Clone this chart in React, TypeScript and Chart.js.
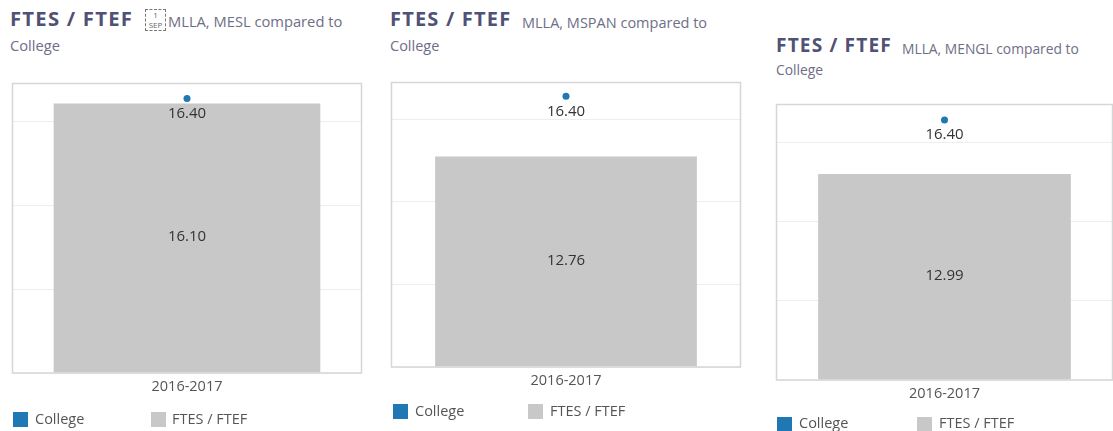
import React, { useEffect, useRef } from "react";
import { Chart, registerables } from "chart.js";

Chart.register(...registerables);

// ---------- data ----------
const categories = ["2016-2017"];
const titleText = "FTES / FTEF";
const panelSubtitles = ["MLLA, MESL compared to", "MLLA, MSPAN compared to", "MLLA, MENGL compared to"];
const subtitleSecondLine = "College";
const ftesFtefValues = [16.1, 12.76, 12.99];
const collegeValues = [16.4, 16.4, 16.4];
const yGridTicks = [0, 5, 10, 15];
const legendLabels = ["College", "FTES / FTEF"];

// ---------- styles / layout ----------
const COLLEGE_COLOR = "#1f77b4";
const BAR_COLOR = "#c8c8c8";
const FONT = "'Open Sans', sans-serif";
const TITLE_COLOR = "#505176";
const SUB_COLOR = "#6e6e86";
const TEXT_COLOR = "#555555";
const LABEL_COLOR = "#333333";

type PanelLayout = {
  frame: { left: number; top: number; right: number; bottom: number };
  yMax: number;
  barPct: number;
  fontScale: number;
  titleX: number;
  titleBase: number;
  subX: number;
  sepX?: number;
  collegeBase: number;
  legendY: number;
  legendX: number[];
  legendTextX: number[];
};

const panels: PanelLayout[] = [
  {
    frame: { left: 11, top: 82, right: 363, bottom: 373 },
    yMax: 17.29, barPct: 0.764, fontScale: 1.015,
    titleX: 10, titleBase: 26, subX: 168, sepX: 145, collegeBase: 51.5,
    legendY: 419.5, legendX: [13, 151], legendTextX: [35, 172],
  },
  {
    frame: { left: 390, top: 81, right: 742, bottom: 367 },
    yMax: 17.24, barPct: 0.75, fontScale: 1,
    titleX: 390, titleBase: 27, subX: 522, collegeBase: 51.5,
    legendY: 411.5, legendX: [393, 528], legendTextX: [415, 550],
  },
  {
    frame: { left: 775, top: 103, right: 1114, bottom: 380 },
    yMax: 17.38, barPct: 0.752, fontScale: 0.955,
    titleX: 776, titleBase: 53, subX: 902, collegeBase: 75,
    legendY: 424, legendX: [777, 917], legendTextX: [799, 939],
  },
];

const TITLE_SIZE = 20;
const SUB_SIZE = 14.5;
const LEGEND_SIZE = 14.5;
const TICK_SIZE = 14.5;
const TICK_PAD = 5;
const AXIS_H = 22;
const EXTRA_BOTTOM = 40;

function topFromBaseline(base: number, size: number) {
  return base - 0.888 * size;
}

function ChartPanel({ idx }: { idx: number }) {
  const ref = useRef<HTMLCanvasElement | null>(null);
  const p = panels[idx];
  const fw = p.frame.right - p.frame.left;
  const fh = p.frame.bottom - p.frame.top;
  const cw = fw + 4;
  const ch = fh + EXTRA_BOTTOM;
  const ts = TITLE_SIZE * p.fontScale;
  const ss = SUB_SIZE * p.fontScale;

  useEffect(() => {
    if (!ref.current) return;
    const framePlugin = {
      id: "frame",
      afterDraw(chart: any) {
        const { ctx, chartArea } = chart;
        ctx.save();
        ctx.strokeStyle = "#d6d6d6";
        ctx.lineWidth = 1.5;
        ctx.strokeRect(chartArea.left, chartArea.top, chartArea.right - chartArea.left, chartArea.bottom - chartArea.top);
        ctx.restore();
      },
    };
    const labelPlugin = {
      id: "valueLabels",
      afterDatasetsDraw(chart: any) {
        const { ctx } = chart;
        ctx.save();
        ctx.font = `15px ${FONT}`;
        ctx.fillStyle = LABEL_COLOR;
        ctx.textAlign = "center";
        ctx.textBaseline = "middle";
        chart.data.datasets.forEach((ds: any, di: number) => {
          const meta = chart.getDatasetMeta(di);
          meta.data.forEach((el: any, i: number) => {
            const v = ds.data[i] as number;
            const txt = v.toFixed(2);
            if (ds.type === "bar") {
              const props = el.getProps(["x", "y", "base"], true);
              ctx.fillText(txt, props.x, (props.y + props.base) / 2 - 1);
            } else {
              const props = el.getProps(["x", "y"], true);
              ctx.fillText(txt, props.x, props.y + 15);
            }
          });
        });
        ctx.restore();
      },
    };
    const chart = new Chart(ref.current, {
      type: "bar",
      data: {
        labels: categories,
        datasets: [
          {
            type: "line",
            label: legendLabels[0],
            data: [collegeValues[idx]],
            showLine: false,
            pointRadius: 3.5,
            pointHoverRadius: 3.5,
            pointBorderWidth: 0,
            pointBackgroundColor: COLLEGE_COLOR,
            borderColor: COLLEGE_COLOR,
            order: 0,
          } as any,
          {
            type: "bar",
            label: legendLabels[1],
            data: [ftesFtefValues[idx]],
            backgroundColor: BAR_COLOR,
            borderWidth: 0,
            barPercentage: p.barPct,
            categoryPercentage: 1,
            order: 1,
          } as any,
        ],
      },
      options: {
        animation: false,
        responsive: false,
        maintainAspectRatio: false,
        devicePixelRatio: 1,
        layout: { padding: { left: 2, right: 2, top: 2, bottom: EXTRA_BOTTOM - 2 - AXIS_H } },
        plugins: { legend: { display: false }, tooltip: { enabled: false }, title: { display: false } },
        scales: {
          x: {
            grid: { display: false, drawTicks: false },
            border: { display: false },
            ticks: { font: { family: FONT, size: TICK_SIZE }, color: TEXT_COLOR, padding: TICK_PAD },
            afterFit: (s: any) => {
              s.height = AXIS_H;
            },
          },
          y: {
            min: 0,
            max: p.yMax,
            afterBuildTicks: (s: any) => {
              s.ticks = yGridTicks.map((v) => ({ value: v }));
            },
            ticks: { display: false },
            grid: { color: "#eeeeee", drawTicks: false, lineWidth: 1 },
            border: { display: false },
          },
        },
      },
      plugins: [framePlugin, labelPlugin],
    });
    return () => chart.destroy();
  }, [idx]);

  const abs = (x: number, y: number, extra: React.CSSProperties = {}): React.CSSProperties => ({
    position: "absolute",
    left: x,
    top: y,
    whiteSpace: "nowrap",
    lineHeight: 1,
    fontFamily: FONT,
    ...extra,
  });

  return (
    <>
      <canvas
        ref={ref}
        width={cw}
        height={ch}
        style={{ position: "absolute", left: p.frame.left - 2, top: p.frame.top - 2, width: cw, height: ch }}
      />
      <div style={abs(p.titleX, topFromBaseline(p.titleBase, ts), { fontSize: ts, fontWeight: 700, color: TITLE_COLOR, letterSpacing: 1.2 * p.fontScale })}>
        {titleText}
      </div>
      {p.sepX !== undefined && (
        <div
          style={{
            position: "absolute",
            left: p.sepX,
            top: 9,
            width: 21,
            height: 22,
            border: "1px dashed #777",
            fontFamily: FONT,
            color: "#666",
            fontSize: 8,
            lineHeight: "10px",
            textAlign: "center",
            boxSizing: "border-box",
          }}
        >
          <div>1</div>
          <div>SEP</div>
        </div>
      )}
      <div style={abs(p.subX, topFromBaseline(p.titleBase + 1.5, ss), { fontSize: ss, color: SUB_COLOR })}>
        {panelSubtitles[idx]}
      </div>
      <div style={abs(p.titleX, topFromBaseline(p.collegeBase, ss), { fontSize: ss, color: SUB_COLOR })}>
        {subtitleSecondLine}
      </div>
      {legendLabels.map((lab, li) => (
        <React.Fragment key={lab}>
          <div
            style={{
              position: "absolute",
              left: p.legendX[li],
              top: p.legendY - 7.5,
              width: 15,
              height: 15,
              background: li === 0 ? COLLEGE_COLOR : BAR_COLOR,
            }}
          />
          <div style={abs(p.legendTextX[li], p.legendY - 0.531 * LEGEND_SIZE, { fontSize: LEGEND_SIZE, color: TEXT_COLOR })}>
            {lab}
          </div>
        </React.Fragment>
      ))}
    </>
  );
}

export default function App() {
  return (
    <div
      style={{
        position: "fixed",
        left: 0,
        top: 0,
        width: 1113,
        height: 431,
        overflow: "hidden",
        background: "#ffffff",
      }}
    >
      {panels.map((_, i) => (
        <ChartPanel key={i} idx={i} />
      ))}
    </div>
  );
}
